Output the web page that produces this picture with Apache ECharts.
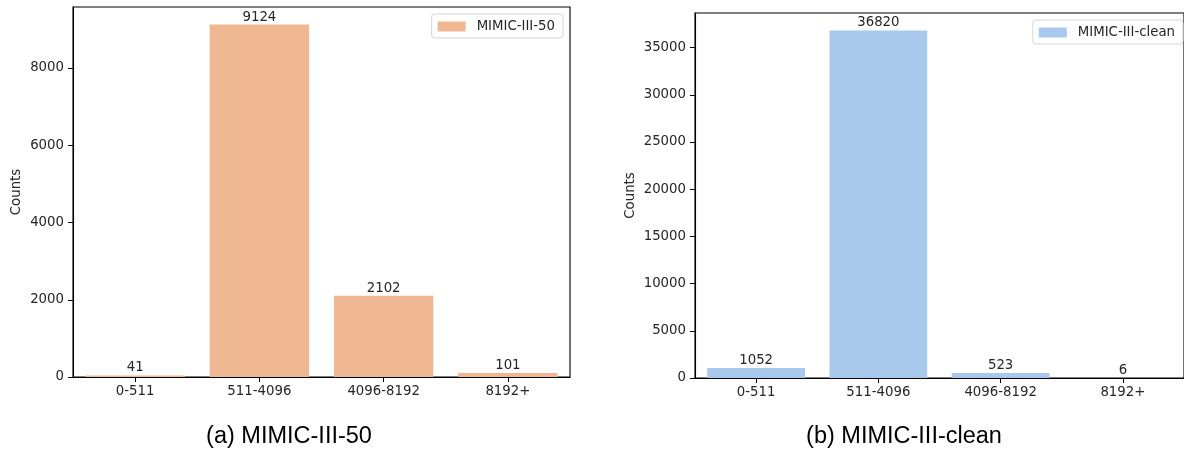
<!DOCTYPE html>
<html>
<head>
<meta charset="utf-8">
<script src="https://cdn.jsdelivr.net/npm/echarts@6/dist/echarts.min.js"></script>
<style>
  html, body { margin: 0; padding: 0; background: #fff; }
  #chart { width: 1184px; height: 455px; }
</style>
</head>
<body>
<div id="chart"></div>
<script>
const categories = ['0-511', '511-4096', '4096-8192', '8192+'];
const countsA = [41, 9124, 2102, 101];
const countsB = [1052, 36820, 523, 6];
const ticksA = [0, 2000, 4000, 6000, 8000];
const ticksB = [0, 5000, 10000, 15000, 20000, 25000, 30000, 35000];
const nameA = 'MIMIC-III-50';
const nameB = 'MIMIC-III-clean';

const tickFont = { fontFamily: 'DejaVu Sans', fontSize: 13.3, color: '#262626' };

const chart = echarts.init(document.getElementById('chart'), null, { renderer: 'canvas' });

function xAxisFor(gridIndex) {
  return {
    type: 'category',
    gridIndex,
    data: categories,
    axisLine: { show: true, lineStyle: { color: '#000', width: 1.1 } },
    axisTick: { show: true, alignWithLabel: true, length: 5, lineStyle: { color: '#000', width: 1 } },
    axisLabel: { ...tickFont, margin: 8 },
    splitLine: { show: false }
  };
}

function yAxisFor(gridIndex, max, ticks, gap) {
  return {
    type: 'value',
    gridIndex,
    min: 0,
    max,
    name: 'Counts',
    nameLocation: 'middle',
    nameGap: gap,
    nameRotate: 90,
    nameTextStyle: { fontFamily: 'DejaVu Sans', fontSize: 13.3, color: '#262626' },
    axisLine: { show: true, lineStyle: { color: '#000', width: 1.1 } },
    axisTick: { show: true, length: 5, customValues: ticks, lineStyle: { color: '#000', width: 1 } },
    axisLabel: { ...tickFont, margin: 9, customValues: ticks, formatter: v => String(v) },
    splitLine: { show: false }
  };
}

function legendFor(name, right, top) {
  return {
    data: [name],
    right,
    top,
    orient: 'vertical',
    icon: 'rect',
    itemWidth: 28,
    itemHeight: 10,
    padding: [6, 8, 5, 6],
    backgroundColor: '#fff',
    borderColor: '#d6d6d6',
    borderWidth: 1,
    borderRadius: 3,
    textStyle: { fontFamily: 'DejaVu Sans', fontSize: 13.3, color: '#262626', padding: [0, 0, 0, 6] }
  };
}

function barSeries(name, data, color, idx) {
  return {
    name,
    type: 'bar',
    xAxisIndex: idx,
    yAxisIndex: idx,
    data,
    barCategoryGap: '20%',
    itemStyle: { color },
    label: {
      show: true,
      position: 'top',
      distance: 1,
      fontFamily: 'DejaVu Sans',
      fontSize: 13.3,
      color: '#262626'
    }
  };
}

const option = {
  backgroundColor: '#fff',
  animation: false,
  grid: [
    { left: 73, top: 7, width: 497, height: 370, show: true, borderColor: '#000', borderWidth: 1.1, backgroundColor: 'transparent' },
    { left: 695, top: 13, width: 489, height: 365, show: true, borderColor: '#000', borderWidth: 1.1, backgroundColor: 'transparent' }
  ],
  legend: [
    legendFor(nameA, 1184 - 563, 14),
    legendFor(nameB, 1, 20)
  ],
  xAxis: [xAxisFor(0), xAxisFor(1)],
  yAxis: [
    yAxisFor(0, 9124 * 1.05, ticksA, 50),
    yAxisFor(1, 36820 * 1.05, ticksB, 58)
  ],
  series: [
    barSeries(nameA, countsA, '#f0b892', 0),
    barSeries(nameB, countsB, '#a9c9ec', 1)
  ],
  graphic: [
    {
      type: 'text', x: 289, y: 437,
      style: { text: '(a) MIMIC-III-50', fontFamily: 'Liberation Sans', fontSize: 23.5, fill: '#000', align: 'center', verticalAlign: 'middle' }
    },
    {
      type: 'text', x: 904, y: 437,
      style: { text: '(b) MIMIC-III-clean', fontFamily: 'Liberation Sans', fontSize: 23.5, fill: '#000', align: 'center', verticalAlign: 'middle' }
    }
  ]
};

chart.setOption(option);
</script>
</body>
</html>
